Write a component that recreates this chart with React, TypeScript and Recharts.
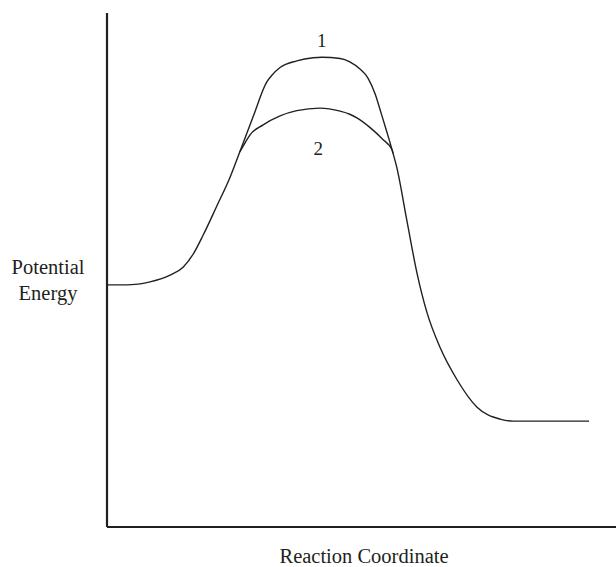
import React from "react";
import { LineChart, Line, XAxis, YAxis, ReferenceDot, Label } from "recharts";

// Reaction coordinate (0-100) and potential energy (0-100)
const path1X = [0, 2.55, 5.5, 8.45, 12.4, 15.0, 17.0, 18.9, 21.6, 24.2, 26.1, 28.7, 31.4, 32.4, 34.0, 37.3, 40.5, 42.2, 45.8, 47.7, 49.7, 51.3, 52.7, 53.8, 55.0, 56.2, 56.9, 58.9, 60.9, 62.9, 65.4, 68.8, 72.7, 77.2, 79.8, 94.7];
const path1Y = [47.1, 47.1, 47.2, 47.7, 49.0, 50.6, 53.2, 56.8, 62.5, 68.1, 73.0, 79.8, 86.6, 87.9, 89.4, 90.7, 91.3, 91.4, 91.15, 90.5, 89.1, 87.3, 84.2, 80.7, 76.8, 72.7, 70.1, 59.7, 49.4, 41.6, 35.0, 28.6, 23.3, 21.0, 20.6, 20.6];

const path2X = [26.1, 27.1, 28.1, 30.6, 34.0, 37.3, 41.8, 45.8, 47.7, 49.1, 51.7, 54.2, 56.0, 56.2];
const path2Y = [73.0, 74.7, 76.3, 78.2, 80.0, 81.0, 81.5, 80.9, 80.3, 79.6, 77.7, 75.4, 73.4, 72.7];

const curveLabels = ["1", "2"];
const labelX = [42.2, 41.5];
const labelY = [94.7, 73.7];

const xTitle = "Reaction Coordinate";
const yTitleLines = ["Potential", "Energy"];

const data1 = path1X.map((x, i) => ({ x, e: path1Y[i] }));
const data2 = path2X.map((x, i) => ({ x, e: path2Y[i] }));

const INK = "#231f20";
const FONT = "Liberation Serif, Times New Roman, serif";

const YTitle = () => (
  <text x={48} y={274} textAnchor="middle" fill={INK} style={{ fontFamily: FONT, fontSize: 20.5 }}>
    <tspan x={48} y={274}>{yTitleLines[0]}</tspan>
    <tspan x={48} y={300}>{yTitleLines[1]}</tspan>
  </text>
);

const XTitle = () => (
  <text x={364} y={563} textAnchor="middle" fill={INK} style={{ fontFamily: FONT, fontSize: 20.5 }}>
    {xTitle}
  </text>
);

const CurveTag = (props: any) => {
  const vb = props.viewBox || {};
  const cx = vb.cx ?? vb.x ?? 0;
  const cy = vb.cy ?? vb.y ?? 0;
  return (
    <text x={cx} y={cy + 6.5} textAnchor="middle" fill={INK} style={{ fontFamily: FONT, fontSize: 19 }}>
      {props.value}
    </text>
  );
};

export default function App() {
  return (
    <div style={{ position: "absolute", left: 0, top: 0, background: "#fff" }}>
      <LineChart
        width={616}
        height={567}
        margin={{ top: 13, right: 0, bottom: 39, left: 106 }}
      >
        <XAxis
          type="number"
          dataKey="x"
          domain={[0, 100]}
          allowDataOverflow
          tick={false}
          tickLine={false}
          height={1}
          axisLine={{ stroke: INK, strokeWidth: 2.2 }}
        >
          <Label content={<XTitle />} />
        </XAxis>
        <YAxis
          type="number"
          dataKey="e"
          domain={[0, 100]}
          allowDataOverflow
          tick={false}
          tickLine={false}
          width={1}
          axisLine={{ stroke: INK, strokeWidth: 2.2 }}
        >
          <Label content={<YTitle />} />
        </YAxis>
        <Line
          data={data1}
          dataKey="e"
          type="monotone"
          stroke={INK}
          strokeWidth={1.4}
          dot={false}
          activeDot={false}
          isAnimationActive={false}
        />
        <Line
          data={data2}
          dataKey="e"
          type="monotone"
          stroke={INK}
          strokeWidth={1.4}
          dot={false}
          activeDot={false}
          isAnimationActive={false}
        />
        {curveLabels.map((t, i) => (
          <ReferenceDot
            key={t}
            x={labelX[i]}
            y={labelY[i]}
            r={0}
            fill="none"
            stroke="none"
            label={<CurveTag value={t} />}
          />
        ))}
      </LineChart>
    </div>
  );
}
